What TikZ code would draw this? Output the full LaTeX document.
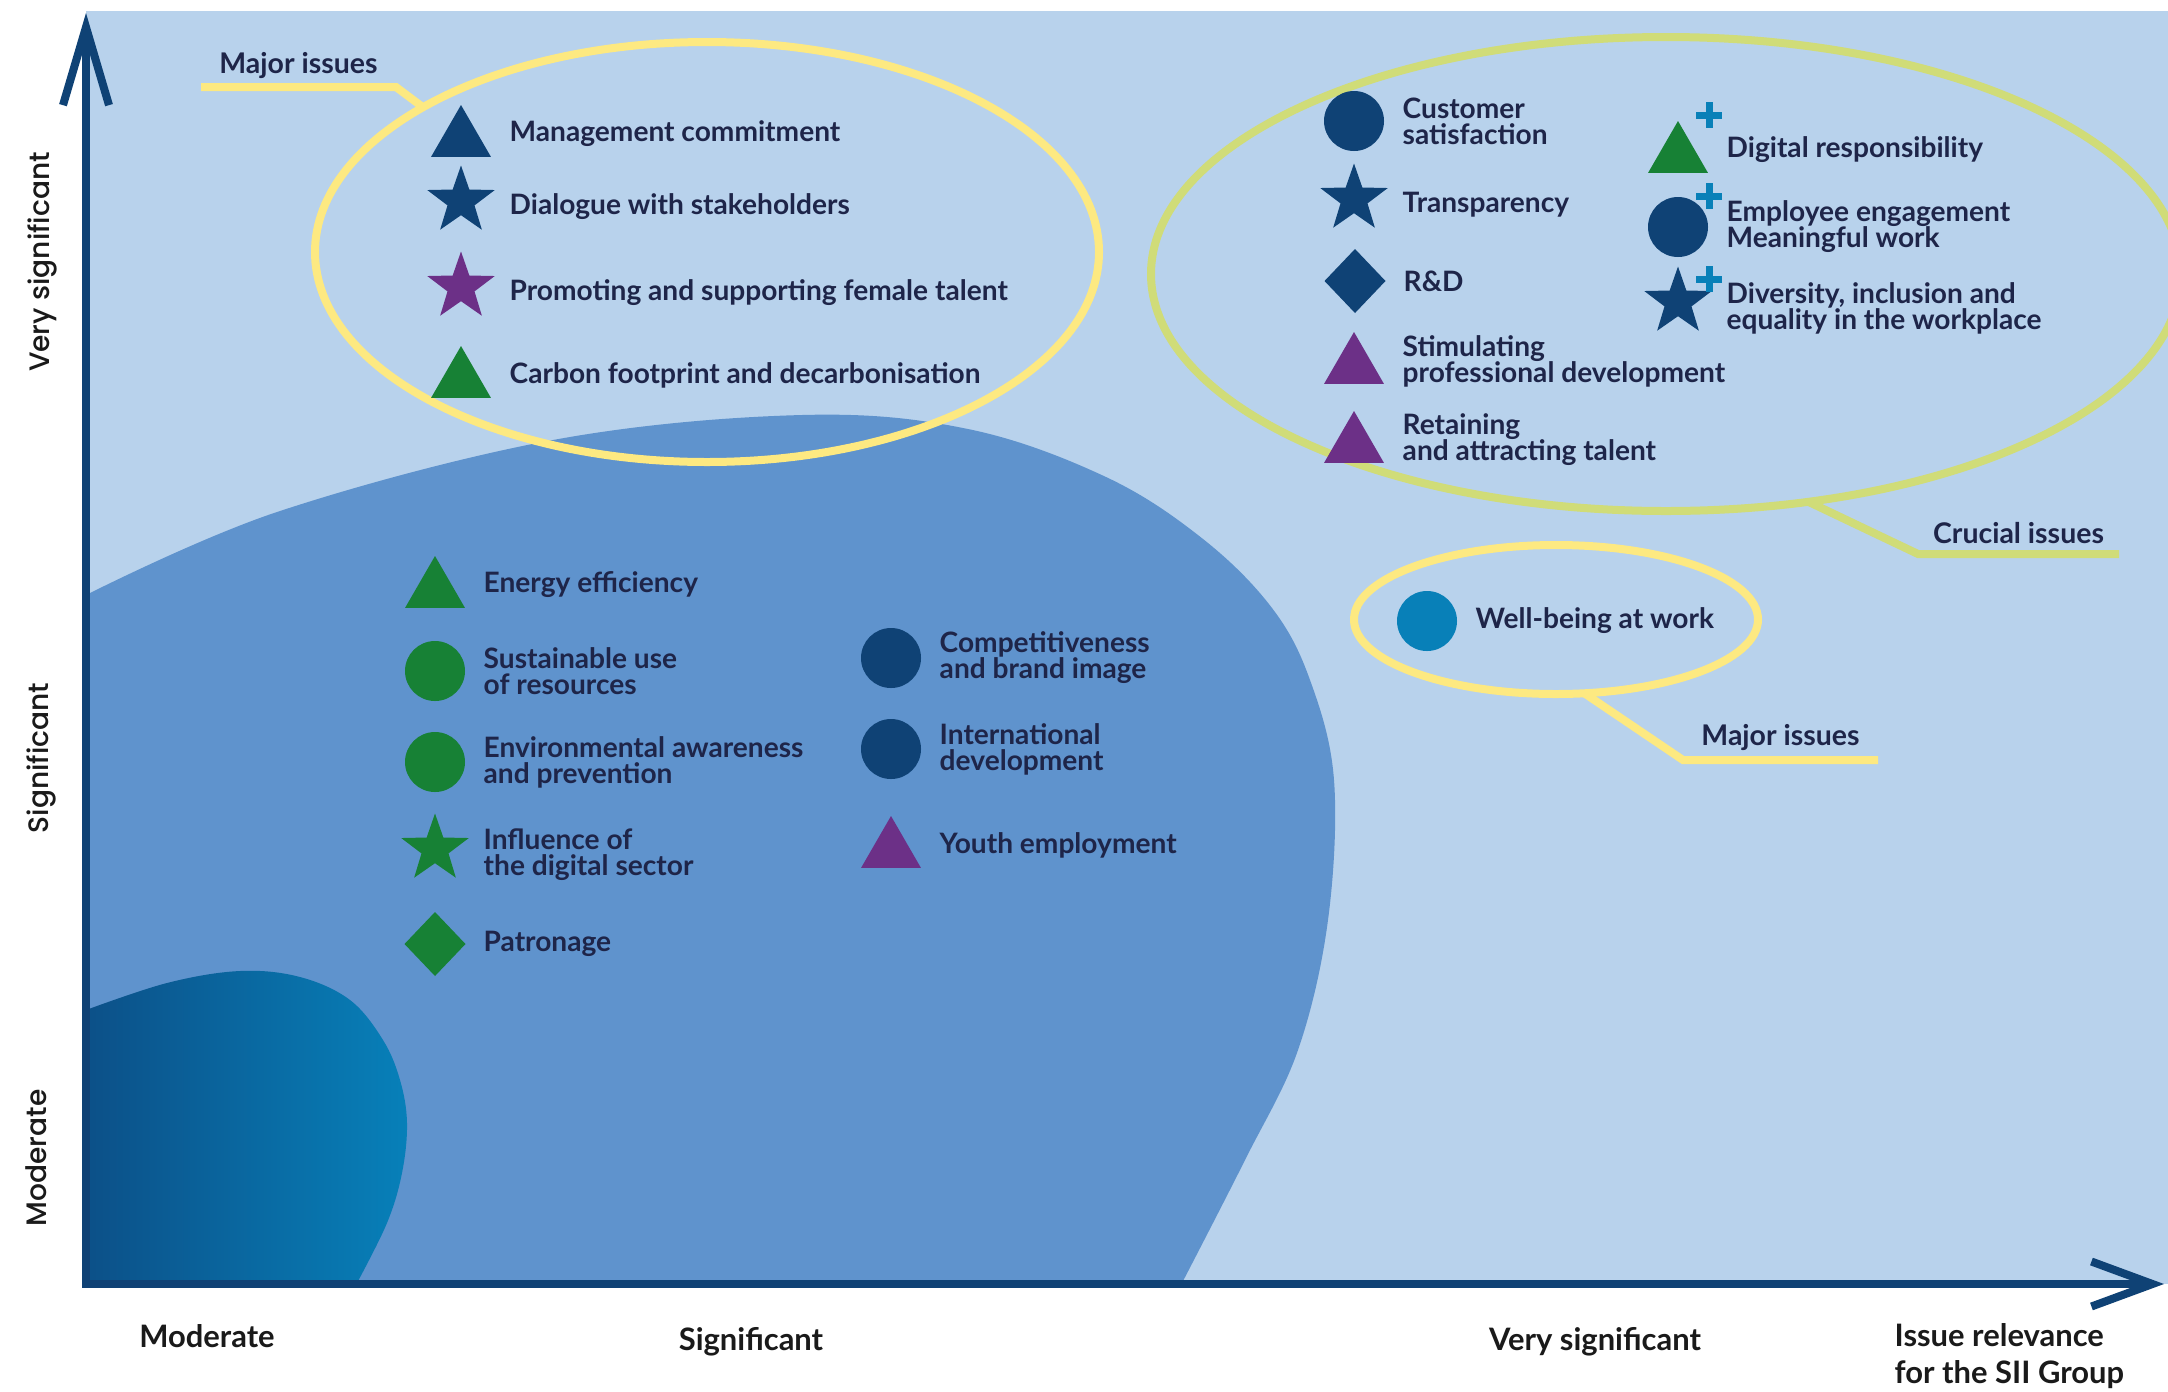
\documentclass[tikz,border=0pt]{standalone}
\usepackage{fontspec}
\setmainfont{Lato}
\newfontfamily\axisfont{Poppins}[UprightFont=* Medium]
\usetikzlibrary{positioning, shapes.geometric, arrows.meta}

\definecolor{bglight}{HTML}{B8D2EC}
\definecolor{bgmid}{HTML}{5F93CD}
\definecolor{deepleft}{HTML}{0C5088}
\definecolor{deepright}{HTML}{0780B9}
\definecolor{navy}{HTML}{0F4275}
\definecolor{leaf}{HTML}{178135}
\definecolor{plum}{HTML}{6C3087}
\definecolor{sky}{HTML}{0880B8}
\definecolor{ringyellow}{HTML}{FDE981}
\definecolor{ringlime}{HTML}{D0DC78}
\definecolor{inktext}{HTML}{1E2549}
\definecolor{axistext}{HTML}{1A1A1A}

\tikzset{
	sym/.style={inner sep=0pt, outer sep=0pt, draw=none},
	tri/.style={sym, regular polygon, regular polygon sides=3, minimum size=0.69cm, yshift=-0.055cm},
	roundsym/.style={sym, circle, minimum size=0.60cm},
	rhomb/.style={sym, diamond, minimum width=0.61cm, minimum height=0.64cm},
	starry/.style={sym, star, star points=5, star point ratio=2.5, minimum size=0.71cm, yshift=0.06cm},
	issuetext/.style={inner sep=0pt, text=inktext, align=left, font=\bfseries\fontsize{8.0}{7.4}\selectfont},
	ring/.style={ellipse, draw=#1, line width=0.08cm, inner sep=0pt, outer sep=0pt},
	leader/.style={draw=#1, line width=0.08cm},
	leadlabel/.style={inner sep=0pt, text=inktext, font=\bfseries\fontsize{8.1}{10}\selectfont},
	axisline/.style={draw=navy, line width=0.08cm},
	sidelabel/.style={inner sep=0pt, rotate=90, text=axistext, font=\axisfont\fontsize{8}{9}\selectfont},
	footlabel/.style={inner sep=0pt, text=axistext, align=left, font=\bfseries\fontsize{8.8}{10.5}\selectfont},
	pics/plusmark/.style={code={
		\draw[sky, line width=0.07cm] (-0.13,0) -- (0.13,0) (0,-0.13) -- (0,0.13);
	}}
}

% one issue: symbol plus its label
\newcommand{\issueitem}[5]{%
	\coordinate (#1-at) at (#2);
	\node[#3, fill=#4] (#1) at (#1-at) {};
	\node[issuetext, right=0.48cm of #1-at] (#1-txt) {#5};
}

\begin{document}
\begin{tikzpicture}[x=1cm, y=-1cm]
	\useasboundingbox (0,0) rectangle (21.68,13.91);
	
	% Background zones
	\fill[bglight] (0.86,0.11) rectangle (21.68,12.84);
	\fill[bgmid] plot[smooth, tension=0.6] coordinates {(0.86,5.95) (2.77,5.12) (5.53,4.40) (8.02,4.15)
		(9.68,4.29) (11.06,4.77) (12.03,5.39) (12.72,6.08) (13.10,6.80) (13.34,7.80) (13.28,9.20)
		(12.98,10.50) (12.45,11.60) (11.82,12.83)} -- (0.86,12.84) -- cycle;
	\shade[left color=deepleft, right color=deepright] plot[smooth, tension=0.6] coordinates {(0.86,10.10)
		(1.67,9.83) (2.40,9.71) (3.00,9.77) (3.50,10.00) (3.83,10.40) (4.00,10.80) (4.07,11.23)
		(4.02,11.73) (3.87,12.23) (3.57,12.83)} -- (0.86,12.84) -- cycle;
	
	% Axes
	\draw[axisline, {Straight Barb[length=0.78cm, width=0.46cm]}-{Straight Barb[length=0.61cm, width=0.45cm]}]
		(0.86,0.13) -- (0.86,12.84) -- (21.64,12.84);
	\node[sidelabel] (vsig) at (0.42,2.62) {Very significant};
	\node[sidelabel] (sig) at (0.41,7.58) {Significant};
	\node[sidelabel] (mod) at (0.36,11.58) {Moderate};
	\node[footlabel] (xmod) at (2.07,13.36) {Moderate};
	\node[footlabel] (xsig) at (7.51,13.42) {Significant};
	\node[footlabel] (xvsig) at (15.95,13.42) {Very significant};
	\node[footlabel, anchor=west] (xtitle) at (18.94,13.56) {Issue relevance\\for the SII Group};
	
	% Rings round the issue groups
	\node[ring=ringyellow, minimum width=7.84cm, minimum height=4.20cm] (majring) at (7.07,2.52) {};
	\node[ring=ringlime, minimum width=10.30cm, minimum height=4.74cm] (crucring) at (16.66,2.74) {};
	\node[ring=ringyellow, minimum width=4.04cm, minimum height=1.49cm] (wellring) at (15.56,6.195) {};
	
	% Leaders and their labels
	\coordinate (bend1) at (3.96,0.87);
	\coordinate (end1) at (2.01,0.87);
	\draw[leader=ringyellow] (majring.153.9) -- (bend1) -- (end1) node[leadlabel, midway, above=0.04cm] (majlbl) {Major issues};
	\coordinate (bend2) at (19.18,5.54);
	\coordinate (end2) at (21.19,5.54);
	\draw[leader=ringlime] (crucring.-58) -- (bend2) -- (end2) node[leadlabel, midway, above=0.06cm] (cruclbl) {Crucial issues};
	\coordinate (bend3) at (16.83,7.60);
	\coordinate (end3) at (18.78,7.60);
	\draw[leader=ringyellow] (wellring.-69) -- (bend3) -- (end3) node[leadlabel, midway, above=0.05cm] (welllbl) {Major issues};
	
	% Major issues
	\issueitem{mgmt}{4.61,1.34}{tri}{navy}{Management commitment}
	\issueitem{dialog}{4.61,2.07}{starry}{navy}{Dialogue with stakeholders}
	\issueitem{female}{4.61,2.93}{starry}{plum}{Promoting and supporting female talent}
	\issueitem{carbon}{4.61,3.75}{tri}{leaf}{Carbon footprint and decarbonisation}
	
	% Significant issues, first column
	\issueitem{energy}{4.35,5.85}{tri}{leaf}{Energy efficiency}
	\issueitem{resources}{4.35,6.71}{roundsym}{leaf}{Sustainable use\\of resources}
	\issueitem{envaware}{4.35,7.62}{roundsym}{leaf}{Environmental awareness\\and prevention}
	\issueitem{digital}{4.35,8.55}{starry}{leaf}{Influence of\\the digital sector}
	\issueitem{patron}{4.35,9.44}{rhomb}{leaf}{Patronage}
	
	% Significant issues, second column
	\issueitem{brand}{8.91,6.58}{roundsym}{navy}{Competitiveness\\and brand image}
	\issueitem{intl}{8.91,7.49}{roundsym}{navy}{International\\development}
	\issueitem{youth}{8.91,8.45}{tri}{plum}{Youth employment}
	
	% Crucial issues
	\issueitem{customer}{13.54,1.21}{roundsym}{navy}{Customer\\satisfaction}
	\issueitem{transp}{13.54,2.05}{starry}{navy}{Transparency}
	\issueitem{rnd}{13.55,2.81}{rhomb}{navy}{R\&D}
	\issueitem{stimul}{13.54,3.61}{tri}{plum}{Stimulating\\professional development}
	\issueitem{retain}{13.54,4.40}{tri}{plum}{Retaining\\and attracting talent}
	\issueitem{digresp}{16.78,1.50}{tri}{leaf}{Digital responsibility}
	\issueitem{engage}{16.78,2.27}{roundsym}{navy}{Employee engagement\\Meaningful work}
	\issueitem{divers}{16.78,3.08}{starry}{navy}{Diversity, inclusion and\\equality in the workplace}
	\pic at (17.09,1.15) {plusmark};
	\pic at (17.09,1.96) {plusmark};
	\pic at (17.09,2.79) {plusmark};
	
	% Well-being
	\issueitem{wellbeing}{14.27,6.21}{roundsym}{sky}{Well-being at work}
	
\end{tikzpicture}
\end{document}
